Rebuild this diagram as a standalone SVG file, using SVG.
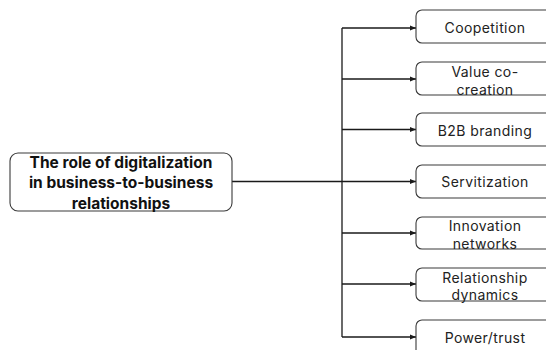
<svg xmlns="http://www.w3.org/2000/svg" width="546" height="350" viewBox="0 0 546 350">
<style>
.box{fill:#fff;stroke:#3a3a3a;stroke-width:1.1}
.con{fill:none;stroke:#1a1a1a;stroke-width:1.3}
.t{font-family:Inter,"Noto Sans",sans-serif;font-size:14px;letter-spacing:0.4px;fill:#222;text-anchor:middle;dominant-baseline:central}
.m{font-family:Inter,"Noto Sans",sans-serif;font-size:15.5px;font-weight:700;fill:#111;text-anchor:middle;dominant-baseline:central}
</style>
<defs>
<marker id="ah" viewBox="0 0 10 10" refX="10" refY="5" markerWidth="6" markerHeight="6" markerUnits="userSpaceOnUse" orient="auto">
<path d="M0,1 L10,5 L0,9 Z" fill="#1a1a1a"/>
</marker>
</defs>
<rect width="546" height="350" fill="#fff"/>
<g id="connectors">
<path class="con" d="M232,181.5 H342"/>
<path class="con" d="M342,28 V337"/>
<path class="con" d="M342,28 H416" marker-end="url(#ah)"/>
<path class="con" d="M342,79 H416" marker-end="url(#ah)"/>
<path class="con" d="M342,129.5 H416" marker-end="url(#ah)"/>
<path class="con" d="M342,181.5 H416" marker-end="url(#ah)"/>
<path class="con" d="M342,233 H416" marker-end="url(#ah)"/>
<path class="con" d="M342,284 H416" marker-end="url(#ah)"/>
<path class="con" d="M342,337 H416" marker-end="url(#ah)"/>
</g>
<g id="main">
<rect class="box" x="10" y="153" width="222" height="58" rx="8"/>
<text class="m" x="121" y="162">The role of digitalization</text>
<text class="m" x="121" y="182.5">in business-to-business</text>
<text class="m" x="121" y="203">relationships</text>
</g>
<g id="n1"><rect class="box" x="416" y="10" width="140" height="33" rx="6"/><text class="t" x="485" y="27">Coopetition</text></g>
<g id="n2"><rect class="box" x="416" y="62" width="140" height="33" rx="6"/><text class="t" x="485" y="71">Value co-</text><text class="t" x="485" y="89">creation</text></g>
<g id="n3"><rect class="box" x="416" y="113" width="140" height="33" rx="6"/><text class="t" x="485" y="130">B2B branding</text></g>
<g id="n4"><rect class="box" x="416" y="165" width="140" height="33" rx="6"/><text class="t" x="485" y="181.5">Servitization</text></g>
<g id="n5"><rect class="box" x="416" y="217" width="140" height="32" rx="6"/><text class="t" x="485" y="225">Innovation</text><text class="t" x="485" y="243">networks</text></g>
<g id="n6"><rect class="box" x="416" y="268" width="140" height="33" rx="6"/><text class="t" x="485" y="277">Relationship</text><text class="t" x="485" y="294">dynamics</text></g>
<g id="n7"><rect class="box" x="416" y="320" width="140" height="40" rx="6"/><text class="t" x="485" y="337">Power/trust</text></g>
</svg>
